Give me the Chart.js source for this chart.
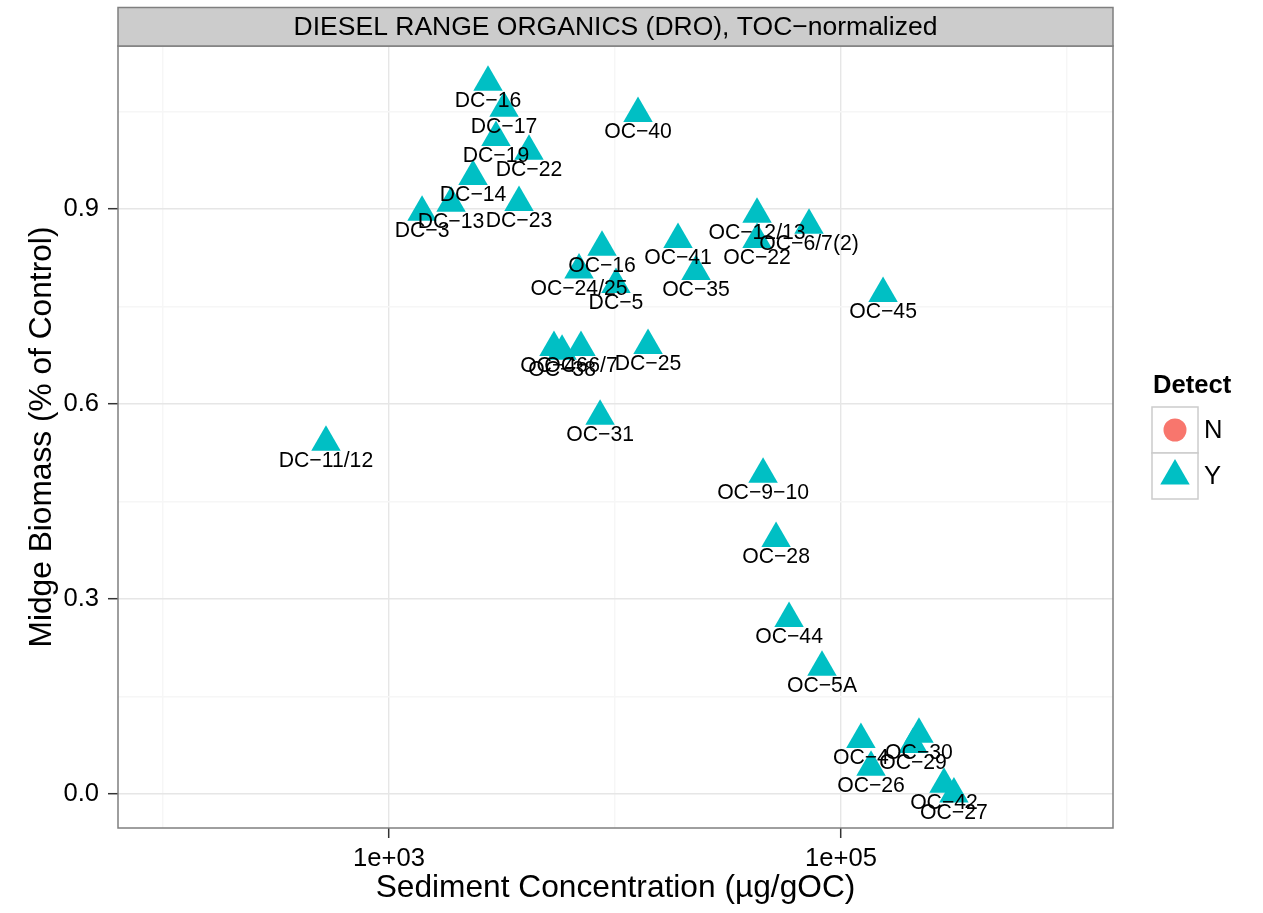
<!DOCTYPE html>
<html>
<head>
<meta charset="utf-8">
<script src="https://cdn.jsdelivr.net/npm/chart.js@4.4.1/dist/chart.umd.min.js"></script>
<style>
  html, body { margin: 0; padding: 0; background: #fff; }
  canvas { display: block; }
</style>
</head>
<body>
<canvas id="chart" width="1263" height="913"></canvas>
<script>
// values
var stations = ['DC−16', 'DC−17', 'DC−19', 'DC−22', 'DC−14', 'DC−13', 'DC−23', 'DC−3',
  'OC−40', 'OC−16', 'OC−24/25', 'DC−5', 'OC−41', 'OC−35', 'OC−46', 'OC−38', 'OC−6/7',
  'DC−25', 'OC−31', 'DC−11/12', 'OC−12/13', 'OC−22', 'OC−6/7(2)', 'OC−45', 'OC−9−10',
  'OC−28', 'OC−44', 'OC−5A', 'OC−4', 'OC−26', 'OC−30', 'OC−29', 'OC−42', 'OC−27'];
var concentration = [2742, 3228, 2974, 4162, 2354, 1881, 3760, 1400,
  12640, 8760, 6930, 10100, 19000, 22820, 5370, 5830, 7070,
  14000, 8590, 526, 42500, 42500, 72200, 153500, 45200,
  51600, 58900, 82400, 122500, 135800, 221300, 208300, 285600, 316000];
var biomass = [1.095, 1.055, 1.010, 0.989, 0.950, 0.909, 0.910, 0.895,
  1.047, 0.841, 0.806, 0.784, 0.853, 0.804, 0.687, 0.681, 0.687,
  0.690, 0.581, 0.541, 0.892, 0.853, 0.875, 0.770, 0.492,
  0.393, 0.270, 0.195, 0.084, 0.041, 0.092, 0.076, 0.015, 0.000];
var detect = ['Y', 'Y', 'Y', 'Y', 'Y', 'Y', 'Y', 'Y',
  'Y', 'Y', 'Y', 'Y', 'Y', 'Y', 'Y', 'Y', 'Y',
  'Y', 'Y', 'Y', 'Y', 'Y', 'Y', 'Y', 'Y',
  'Y', 'Y', 'Y', 'Y', 'Y', 'Y', 'Y', 'Y', 'Y'];

var detectLevels = ['N', 'Y'];
var detectColors = ['#F8766D', '#00BFC4'];
var detectShapes = ['circle', 'triangle'];
var detectSizes = [11.5, 17];

var xTicks = [100, 1000, 10000, 100000, 1000000];
var xTickLabels = ['', '1e+03', '', '1e+05', ''];
var yTicks = [0, 0.15, 0.3, 0.45, 0.6, 0.75, 0.9, 1.05];
var yTickLabels = ['0.0', '', '0.3', '', '0.6', '', '0.9', ''];

var FONT = '"Liberation Sans", Arial, Helvetica, sans-serif';
Chart.defaults.font.family = FONT;
Chart.defaults.color = '#000';

var datasets = detectLevels.map(function (level, k) {
  var pts = [];
  for (var i = 0; i < stations.length; i++) {
    if (detect[i] === level) pts.push({ x: concentration[i], y: biomass[i], label: stations[i] });
  }
  return {
    label: level,
    data: pts,
    pointStyle: detectShapes[k],
    pointRadius: detectSizes[k],
    backgroundColor: detectColors[k],
    borderWidth: 0
  };
});

// station names under each point
var pointLabels = {
  id: 'pointLabels',
  afterDatasetsDraw: function (chart) {
    var ctx = chart.ctx;
    ctx.save();
    ctx.font = '21.2px ' + FONT;
    ctx.fillStyle = '#000';
    ctx.textAlign = 'center';
    ctx.textBaseline = 'middle';
    chart.data.datasets.forEach(function (ds, d) {
      chart.getDatasetMeta(d).data.forEach(function (pt, i) {
        ctx.fillText(ds.data[i].label, pt.x, pt.y + 19);
      });
    });
    ctx.restore();
  }
};

// panel border, facet strip and legend
var panelDecor = {
  id: 'panelDecor',
  afterDraw: function (chart) {
    var ctx = chart.ctx;
    var a = chart.chartArea;
    ctx.save();
    ctx.strokeStyle = '#7f7f7f';
    ctx.lineWidth = 1.5;
    ctx.strokeRect(a.left, a.top, a.right - a.left, a.bottom - a.top);

    ctx.fillStyle = '#cccccc';
    ctx.fillRect(a.left, 7.5, a.right - a.left, a.top - 7.5);
    ctx.strokeRect(a.left, 7.5, a.right - a.left, a.top - 7.5);
    ctx.fillStyle = '#000';
    ctx.font = '26.5px ' + FONT;
    ctx.textAlign = 'center';
    ctx.textBaseline = 'middle';
    ctx.fillText('DIESEL RANGE ORGANICS (DRO), TOC−normalized', (a.left + a.right) / 2, (7.5 + a.top) / 2 + 1);

    ctx.font = 'bold 25.6px ' + FONT;
    ctx.textAlign = 'left';
    ctx.fillText('Detect', 1153, 386);
    chart.data.datasets.forEach(function (ds, i) {
      var top = 407 + i * 46;
      ctx.fillStyle = '#ffffff';
      ctx.fillRect(1152, top, 46, 46);
      ctx.strokeStyle = '#cccccc';
      ctx.strokeRect(1152, top, 46, 46);
      ctx.fillStyle = ds.backgroundColor;
      Chart.helpers.drawPoint(ctx, { pointStyle: ds.pointStyle, radius: ds.pointRadius, rotation: 0, borderWidth: 0 }, 1175, top + 23);
      ctx.fillStyle = '#000';
      ctx.font = '25.6px ' + FONT;
      ctx.fillText(ds.label, 1204, top + 24);
    });
    ctx.restore();
  }
};

var ctx = document.getElementById('chart').getContext('2d');
var chart = new Chart(ctx, {
  type: 'scatter',
  data: { datasets: datasets },
  plugins: [pointLabels, panelDecor],
  options: {
    responsive: false,
    maintainAspectRatio: false,
    devicePixelRatio: 1,
    animation: false,
    events: [],
    layout: { padding: { top: 46, right: 150, left: 0, bottom: 0 } },
    plugins: {
      legend: { display: false },
      tooltip: { enabled: false }
    },
    scales: {
      x: {
        type: 'logarithmic',
        min: 63.2,
        max: 1598000,
        afterBuildTicks: function (scale) {
          scale.ticks = xTicks.map(function (v) { return { value: v }; });
        },
        afterFit: function (scale) { scale.height = 85; },
        border: { display: false },
        grid: {
          color: function (c) { return xTickLabels[c.index] ? '#e6e6e6' : '#f6f6f6'; },
          lineWidth: 1.4,
          tickLength: 10,
          tickWidth: 1.5,
          tickColor: function (c) { return xTickLabels[c.index] ? '#333333' : 'rgba(0,0,0,0)'; }
        },
        ticks: {
          autoSkip: false,
          maxRotation: 0,
          padding: 6,
          color: '#000',
          font: { size: 25.6 },
          callback: function (v, i) { return xTickLabels[i]; }
        },
        title: {
          display: true,
          text: 'Sediment Concentration (µg/gOC)',
          color: '#000',
          font: { size: 31.7 },
          padding: { top: 0, bottom: 6 }
        }
      },
      y: {
        type: 'linear',
        min: -0.0523,
        max: 1.1508,
        afterBuildTicks: function (scale) {
          scale.ticks = yTicks.map(function (v) { return { value: v }; });
        },
        afterFit: function (scale) { scale.width = 118; },
        border: { display: false },
        grid: {
          color: function (c) { return yTickLabels[c.index] ? '#e6e6e6' : '#f6f6f6'; },
          lineWidth: 1.4,
          tickLength: 10,
          tickWidth: 1.5,
          tickColor: function (c) { return yTickLabels[c.index] ? '#333333' : 'rgba(0,0,0,0)'; }
        },
        ticks: {
          autoSkip: false,
          padding: 9,
          color: '#000',
          font: { size: 25.6 },
          callback: function (v, i) { return yTickLabels[i]; }
        },
        title: {
          display: true,
          text: 'Midge Biomass (% of Control)',
          color: '#000',
          font: { size: 31.7 },
          padding: { top: 23, bottom: 0 }
        }
      }
    }
  }
});
</script>
</body>
</html>
